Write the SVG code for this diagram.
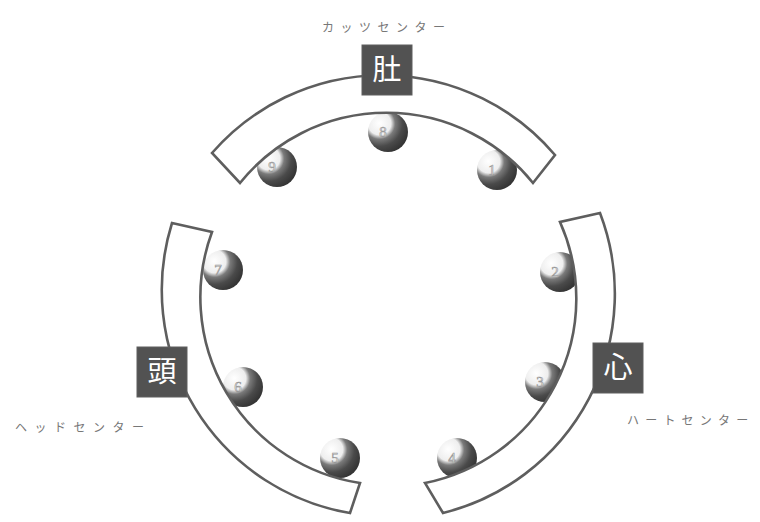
<svg xmlns="http://www.w3.org/2000/svg" width="760" height="522" viewBox="0 0 760 522">
<defs>
<radialGradient id="ballGrad" cx="0.3" cy="0.3" r="0.75" fx="0.28" fy="0.28">
<stop offset="0" stop-color="#ffffff"/>
<stop offset="0.38" stop-color="#eeeeee"/>
<stop offset="0.52" stop-color="#7a7a7a"/>
<stop offset="0.75" stop-color="#4a4a4a"/>
<stop offset="1" stop-color="#353535"/>
</radialGradient>
</defs>
<style>
.band{fill:#ffffff;stroke:#5e5e5e;stroke-width:2.6;stroke-linejoin:miter}
.box{fill:#525252;stroke:#5e5e5e;stroke-width:1}
.kanji{font-family:"Noto Sans CJK JP","Noto Sans CJK SC",sans-serif;font-size:29px;font-weight:normal;fill:#ffffff;text-anchor:middle}
.label{font-family:"Noto Sans CJK JP","Noto Sans CJK SC",sans-serif;font-size:12px;fill:#777777}
.ball{fill:url(#ballGrad)}
.num{font-family:"Liberation Serif",serif;font-size:15px;fill:#e6e6e6;stroke:#999999;stroke-width:0.6;text-anchor:middle}
</style>
<rect width="760" height="522" fill="#ffffff"/>

<g id="ball-8"><circle class="ball" cx="388" cy="132" r="20"/><text class="num" x="383" y="137">8</text></g>
<g id="ball-9"><circle class="ball" cx="277" cy="167" r="20"/><text class="num" x="272" y="172">9</text></g>
<g id="ball-1"><circle class="ball" cx="497" cy="170" r="20"/><text class="num" x="492" y="175">1</text></g>
<g id="ball-2"><circle class="ball" cx="560" cy="272" r="20"/><text class="num" x="555" y="277">2</text></g>
<g id="ball-3"><circle class="ball" cx="545" cy="382" r="20"/><text class="num" x="540" y="387">3</text></g>
<g id="ball-4"><circle class="ball" cx="457" cy="458" r="20"/><text class="num" x="452" y="463">4</text></g>
<g id="ball-5"><circle class="ball" cx="340" cy="458" r="20"/><text class="num" x="335" y="463">5</text></g>
<g id="ball-6"><circle class="ball" cx="243" cy="387" r="20"/><text class="num" x="238" y="392">6</text></g>
<g id="ball-7"><circle class="ball" cx="223" cy="270" r="20"/><text class="num" x="218" y="275">7</text></g>

<g id="gut-center">
<path class="band" d="M212,153 A226,226 0 0 1 555,155 L533,183 A188,188 0 0 0 240,183 Z"/>
<rect class="box" x="362" y="45" width="50" height="50"/>
<text class="kanji" x="387" y="80">肚</text>
<text class="label" x="322" y="32" letter-spacing="6.5">カッツセンター</text>
</g>

<g id="heart-center">
<path class="band" d="M600,213 A226,226 0 0 1 443,513 L425,483 A188,188 0 0 0 560,222 Z"/>
<rect class="box" x="593" y="343" width="50" height="50"/>
<text class="kanji" x="618" y="378">心</text>
<text class="label" x="627" y="425" letter-spacing="6.2">ハートセンター</text>
</g>

<g id="head-center">
<path class="band" d="M350,513 A226,226 0 0 1 172,223 L212,232 A188,188 0 0 0 360,483 Z"/>
<rect class="box" x="137" y="347" width="50" height="50"/>
<text class="kanji" x="162" y="382">頭</text>
<text class="label" x="15" y="432" letter-spacing="7.5">ヘッドセンター</text>
</g>

<g id="connectors"></g>
</svg>
